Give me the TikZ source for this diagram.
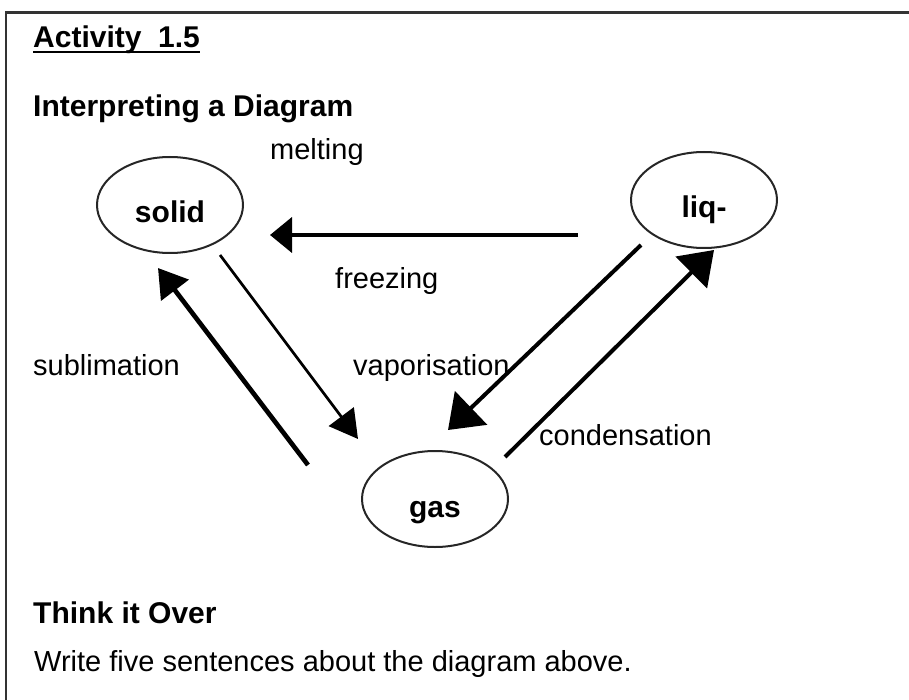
\documentclass[tikz,border=0pt]{standalone}
\usepackage{fontspec}
\setmainfont{Liberation Sans}
\usetikzlibrary{arrows.meta,shapes.geometric}
\begin{document}
\begin{tikzpicture}[x=1pt,y=-1pt,
  lab/.style={anchor=base west,inner sep=0pt,font=\fontsize{29}{34}\selectfont},
  heading/.style={anchor=base west,inner sep=0pt,font=\fontsize{30}{36}\selectfont\bfseries},
  state/.style={draw=black!85,line width=2pt,ellipse,minimum width=146pt,minimum height=96pt,inner sep=0pt,
    text height=36pt,text depth=0pt,font=\fontsize{30}{36}\selectfont\bfseries},
  frame/.style={draw=black!80,line width=2.5pt},
  conn/.style={line width=4pt}
]
\useasboundingbox (0,0) rectangle (909,700);
% frame
\coordinate (frTR) at (909,12.5);
\coordinate (frTL) at (6,12.5);
\coordinate (frBL) at (6,700);
\draw[frame] (frTR) -- (frTL) -- (frBL);

% headings
\node[heading] (act) at (33,48) {Activity\ \ 1.5};
\draw[line width=2pt] ([yshift=-4pt]act.base west) -- ([yshift=-4pt]act.base east);
\node[heading] (interp) at (33,117) {Interpreting a Diagram};
\node[heading] (think) at (33,623) {Think it Over};
\node[lab] (write) at (34,671) {Write five sentences about the diagram above.};

% states
\node[state] (solid) at (170,205) {solid};
\node[state] (liq) at (704,200) {liq-};
\node[state] (gas) at (435,499) {gas};

% labels
\node[lab] (melt) at (270,160) {melting};
\node[lab] (freeze) at (335,288) {freezing};
\node[lab] (subl) at (33,375) {sublimation};
\node[lab] (vap) at (353,375) {vaporisation};
\node[lab] (cond) at (539,445) {condensation};

% connector end points
\coordinate (fzA) at (578,235);
\coordinate (fzB) at (270,235);
\coordinate (sgA) at (220,255);
\coordinate (sgB) at (358,439);
\coordinate (suA) at (308,465);
\coordinate (suB) at (158,268);
\coordinate (vpA) at (641,245);
\coordinate (vpB) at (448,430);
\coordinate (cdA) at (505,457);
\coordinate (cdB) at (714,250);

\draw[conn,-{Triangle[length=22pt,width=35pt]}] (fzA) -- (fzB);
\draw[line width=2.7pt,-{Triangle[length=28pt,width=31pt]}] (sgA) -- (sgB);
\draw[line width=4.7pt,-{Triangle[length=28pt,width=34pt]}] (suA) -- (suB);
\draw[conn,-{Triangle[length=32pt,width=46pt]}] (vpA) -- (vpB);
\draw[conn,-{Triangle[length=32pt,width=44pt]}] (cdA) -- (cdB);
\end{tikzpicture}
\end{document}
